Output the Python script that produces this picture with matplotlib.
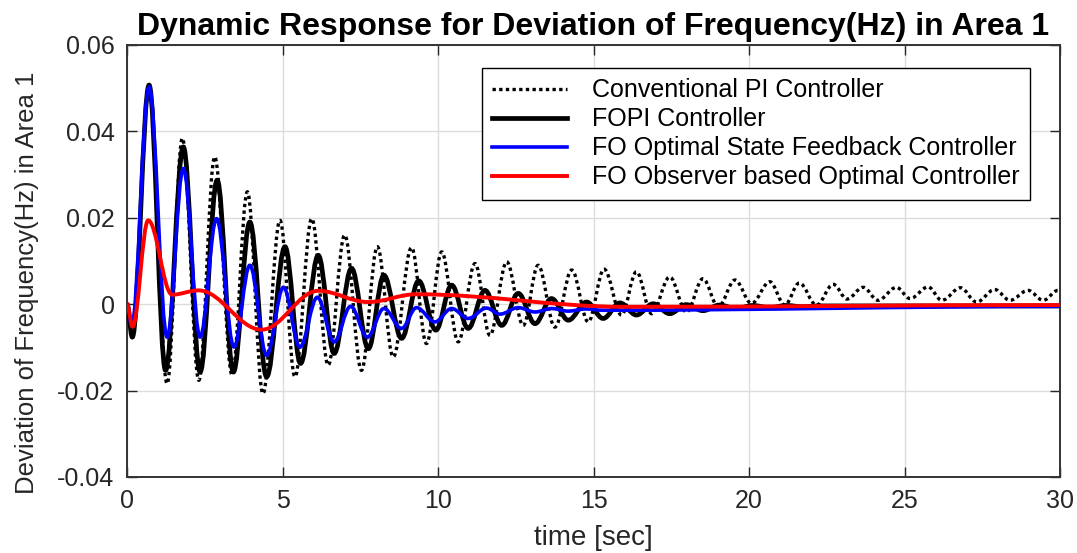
import matplotlib
matplotlib.use("Agg")
import matplotlib.pyplot as plt
from matplotlib.path import Path
from matplotlib.patches import PathPatch
from matplotlib.lines import Line2D

plt.rcParams['font.family'] = ['Liberation Sans', 'DejaVu Sans']

# ---- data: extrema (time [s], deviation [Hz]) ----
pi_t = [0, 0.17, 0.71, 1.29, 1.78, 2.31, 2.82, 3.38, 3.87, 4.37, 4.92, 5.40, 5.94, 6.47,
        7.00, 7.54, 8.05, 8.56, 9.15, 9.63, 10.12, 10.65, 11.19, 11.67, 12.21, 12.74,
        13.22, 13.76, 14.30, 14.83, 15.34, 15.90, 16.38, 16.87, 17.45, 17.99, 18.52,
        19.01, 19.55, 20.08, 20.67, 21.15, 21.62, 22.17, 22.71, 23.15, 23.67, 24.15,
        24.74, 25.18, 25.76, 26.20, 26.80, 27.32, 27.90, 28.39, 28.97, 29.46, 29.94]
pi_v = [0, -0.0076, 0.0505, -0.0184, 0.0384, -0.0176, 0.0341, -0.0164, 0.0260, -0.0207,
        0.0194, -0.0168, 0.0198, -0.0141, 0.0160, -0.0153, 0.0133, -0.0122, 0.0131,
        -0.0091, 0.0121, -0.0087, 0.0094, -0.0072, 0.0098, -0.0049, 0.0090, -0.0053,
        0.0079, -0.0041, 0.0081, -0.0025, 0.0075, -0.0022, 0.0063, -0.0018, 0.0059,
        -0.0006, 0.0056, 0.0002, 0.0052, -0.0002, 0.0049, -0.0002, 0.0046, 0.0012,
        0.0039, 0.0009, 0.0039, 0.0013, 0.0040, 0.0009, 0.0038, 0.0005, 0.0034, 0.0009,
        0.0032, 0.0009, 0.0032]

fopi_t = [0, 0.17, 0.71, 1.24, 1.81, 2.35, 2.90, 3.42, 3.95, 4.49, 5.08, 5.58, 6.15, 6.66,
          7.22, 7.76, 8.26, 8.83, 9.38, 9.93, 10.44, 10.97, 11.51, 12.05, 12.58, 13.12,
          13.65, 14.19, 14.78, 15.31, 15.85, 16.38, 16.92, 17.45, 17.98, 18.52, 19.05,
          19.59, 20.12, 20.66, 21.20, 21.73, 22.30, 30.0]
fopi_v = [0, -0.0076, 0.0507, -0.0153, 0.0364, -0.0157, 0.0287, -0.0157, 0.0190, -0.0168,
          0.0133, -0.0137, 0.0113, -0.0114, 0.0083, -0.0103, 0.0067, -0.0079, 0.0054,
          -0.0060, 0.0044, -0.0056, 0.0032, -0.0049, 0.0025, -0.0045, 0.0013, -0.0037,
          0.0005, -0.0033, 0.0003, -0.0025, 0.0001, -0.0022, -0.0001, -0.0015, -0.0002,
          -0.0010, -0.0003, -0.0008, -0.0003, -0.0006, -0.0004, -0.0004]

fosf_t = [0, 0.15, 0.71, 1.29, 1.81, 2.35, 2.88, 3.44, 3.95, 4.49, 5.03, 5.56, 6.12, 6.66,
          7.19, 7.73, 8.26, 8.83, 9.31, 9.90, 10.44, 10.97, 11.56, 11.99, 12.58, 13.12,
          13.65, 14.19, 14.75, 15.30, 30.0]
fosf_v = [0, -0.0050, 0.0503, -0.0076, 0.0314, -0.0076, 0.0198, -0.0099, 0.0090, -0.0118,
          0.0039, -0.0099, 0.0016, -0.0087, -0.0005, -0.0076, -0.0010, -0.0056, -0.0008,
          -0.0041, -0.0010, -0.0033, -0.0009, -0.0023, -0.0008, -0.0018, -0.0010,
          -0.0016, -0.0011, -0.0014, -0.0005]

foob_t = [0, 0.18, 0.68, 1.45, 2.30, 4.33, 6.15, 7.75, 9.30, 16.0, 30.0]
foob_v = [0, -0.0052, 0.0194, 0.0022, 0.0032, -0.0059, 0.0031, 0.0005, 0.0023, -0.0006, -0.0002]

labels = ['Conventional PI Controller', 'FOPI Controller',
          'FO Optimal State Feedback Controller', 'FO Observer based Optimal Controller']
x_ticks = [0, 5, 10, 15, 20, 25, 30]
y_ticks = [-0.04, -0.02, 0, 0.02, 0.04, 0.06]
y_ticklabels = ['-0.04', '-0.02', '0', '0.02', '0.04', '0.06']

# ---- figure ----
fig = plt.figure(figsize=(10.77, 5.53), dpi=100)
ax = fig.add_axes([127/1077, 1-477/553, 933/1077, 432/553])


def smooth_path(ts, vs):
    """Cubic Bezier path through the extrema, horizontal tangents at each one."""
    verts = [(ts[0], vs[0])]
    codes = [Path.MOVETO]
    k = 0.364
    for i in range(1, len(ts)):
        dt = ts[i] - ts[i-1]
        verts += [(ts[i-1] + k*dt, vs[i-1]), (ts[i] - k*dt, vs[i]), (ts[i], vs[i])]
        codes += [Path.CURVE4]*3
    return Path(verts, codes)

styles = [
    dict(color='black', lw=2.4, ls=(0, (1, 1.0)), z=2),
    dict(color='black', lw=3.4, ls='-', z=3),
    dict(color='#0000ff', lw=2.6, ls='-', z=4),
    dict(color='#ff0000', lw=2.8, ls='-', z=5),
]
series = [(pi_t, pi_v), (fopi_t, fopi_v), (fosf_t, fosf_v), (foob_t, foob_v)]
handles = []
for (ts, vs), st, lab in zip(series, styles, labels):
    patch = PathPatch(smooth_path(ts, vs), fill=False, edgecolor=st['color'],
                      lw=st['lw'], ls=st['ls'], zorder=st['z'], capstyle='butt')
    ax.add_patch(patch)
    handles.append(Line2D([], [], color=st['color'], lw=st['lw'], ls=st['ls'], label=lab))

ax.set_xlim(0, 30)
ax.set_ylim(-0.04, 0.06)
ax.set_xticks(x_ticks)
ax.set_xticklabels([str(v) for v in x_ticks])
ax.set_yticks(y_ticks)
ax.set_yticklabels(y_ticklabels)
ax.grid(True, color='#dcdcdc', lw=1.0)
ax.set_axisbelow(True)
ax.tick_params(direction='in', length=7, width=1.0, top=True, right=True,
               labelsize=18, colors='0.15', pad=9)
for sp in ax.spines.values():
    sp.set_color('0.2')
    sp.set_linewidth(1.4)

ax.set_title('Dynamic Response for Deviation of Frequency(Hz) in Area 1',
             fontsize=23, fontweight='bold', pad=7)
ax.set_xlabel('time [sec]', fontsize=20, color='0.15', labelpad=8)
ax.set_ylabel('Deviation of Frequency(Hz) in Area 1', fontsize=18.5, color='0.15')
ax.yaxis.set_label_coords(-0.094, 0.45)

leg = ax.legend(handles=handles, loc='upper right', bbox_to_anchor=(0.968, 0.947),
                fontsize=18, handlelength=3.0, handletextpad=1.0, labelspacing=0.2,
                borderpad=0.42, borderaxespad=0, fancybox=False, framealpha=1,
                edgecolor='black')
leg.get_frame().set_linewidth(1.0)

fig.savefig('out.png', dpi=100)
